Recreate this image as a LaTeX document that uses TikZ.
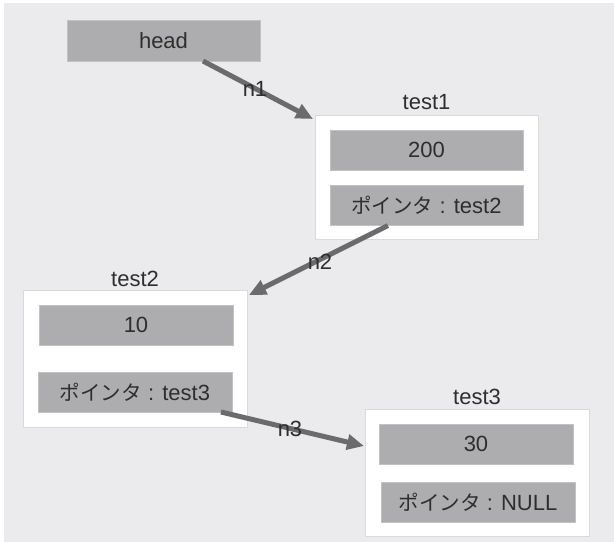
\documentclass[tikz,border=0pt]{standalone}
\usepackage{fontspec}
\setmainfont{Liberation Sans}
\newfontfamily\jpfont{Noto Sans CJK JP}
\newcommand{\jptext}[1]{{\fontsize{20.5}{24}\jpfont #1}}
\usetikzlibrary{arrows.meta}
\definecolor{bg}{HTML}{EBEBED}
\definecolor{cell}{HTML}{ADADAF}
\definecolor{cellborder}{HTML}{C2C2C4}
\definecolor{boxborder}{HTML}{DADADC}
\definecolor{txt}{HTML}{2E2E2E}
\definecolor{arr}{HTML}{6B6B6D}
\begin{document}
\begin{tikzpicture}[x=1pt,y=-1pt,
  every node/.style={inner sep=0pt,outer sep=0pt,text=txt,font=\fontsize{22}{26}\selectfont},
  cellbox/.style={fill=cell,draw=cellborder,line width=0.8pt,minimum width=194pt,minimum height=40pt},
  recbox/.style={fill=white,draw=boxborder,line width=0.8pt,minimum width=224pt},
  title/.style={},
  link/.style={draw=arr,line width=5pt,-{Triangle[length=17pt,width=15pt]}},
  linklabel/.style={}
]
\useasboundingbox (0,0) rectangle (614,542);
\fill[white] (0,0) rectangle (614,542);
\fill[bg] (4,3) rectangle (614,542);

% head
\node[cellbox,minimum width=193pt,minimum height=41pt] (head) at (163.5,40.5) {head};

% test1
\node[recbox,minimum width=223pt,minimum height=124pt] (t1box) at (426.5,177) {};
\node[title] (t1lbl) at (426.5,102) {test1};
\node[cellbox,minimum width=193pt] (v1) at (426.5,150) {200};
\node[cellbox,minimum width=193pt] (p1) at (426.5,205.5) {\jptext{ポインタ} : test2};

% test2
\node[recbox,minimum width=224pt,minimum height=137pt] (t2box) at (135,358.5) {};
\node[title] (t2lbl) at (135,279) {test2};
\node[cellbox] (v2) at (136,325) {10};
\node[cellbox] (p2) at (135,392) {\jptext{ポインタ} : test3};

% test3
\node[recbox,minimum width=224pt,minimum height=127pt] (t3box) at (477,472.5) {};
\node[title] (t3lbl) at (477,397) {test3};
\node[cellbox] (v3) at (476,444) {30};
\node[cellbox] (p3) at (478,502) {\jptext{ポインタ} : NULL};

% links
\draw[link] ([xshift=39.5pt]head.south) -- ([xshift=-2pt,yshift=-4pt]t1box.north west);
\draw[link] ([xshift=-38.5pt]p1.south) -- ([xshift=2pt,yshift=-5pt]t2box.north east);
\draw[link] ([xshift=-11pt]p2.south east) -- ([xshift=-1pt,yshift=-37pt]t3box.north west);

\node[linklabel] (l1) at (255,89) {n1};
\node[linklabel] (l2) at (320,262) {n2};
\node[linklabel] (l3) at (290,429) {n3};
\end{tikzpicture}
\end{document}
